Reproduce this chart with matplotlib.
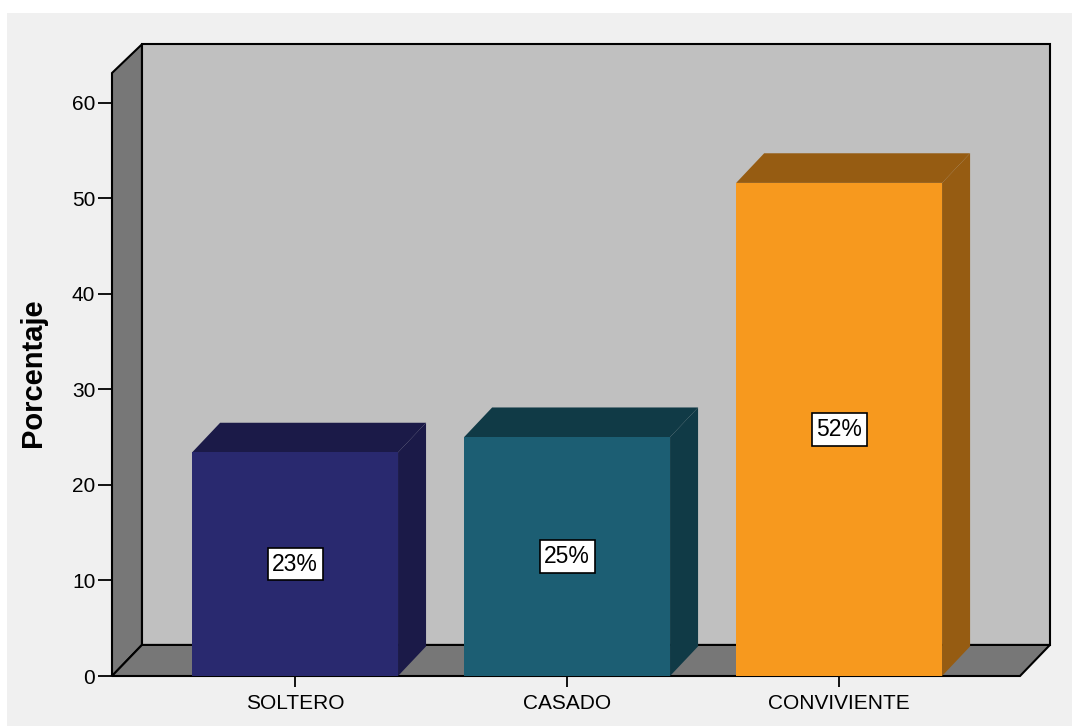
import matplotlib.pyplot as plt
from matplotlib.patches import Polygon, Rectangle

plt.rcParams['font.family'] = ['Liberation Sans', 'DejaVu Sans']

categories = ["SOLTERO", "CASADO", "CONVIVIENTE"]
values = [23.4, 25.0, 51.6]
labels = ["23%", "25%", "52%"]
front_colors = ["#29296f", "#1c5e73", "#f7991e"]
dark_colors = ["#1b1a48", "#103a46", "#965c12"]

fig = plt.figure(figsize=(10.72, 7.27), dpi=100)
fig.patch.set_facecolor("white")
# light grey chart area (white strip at top and left)
fig.add_artist(Rectangle((7 / 1072, 1 / 727), 1, 713 / 727, transform=fig.transFigure,
                         facecolor="#f0f0f0", edgecolor="none", zorder=0))

ax = fig.add_axes([112 / 1072, 51 / 727, 908 / 1072, 603 / 727])
ax.set_xlim(-0.673, 2.665)
ax.set_ylim(0, 63.1)
ax.patch.set_visible(False)
for s in ax.spines.values():
    s.set_visible(False)

# depth of the walls and of the bars (data units)
wdx, wdy = 0.110, 3.25
bdx, bdy = 0.103, 3.1
x0, x1 = ax.get_xlim()
ytop = ax.get_ylim()[1]

# back wall
ax.add_patch(Polygon([(x0 + wdx, wdy), (x0 + wdx, ytop + wdy - 0.25), (x1 + wdx, ytop + wdy - 0.25),
                      (x1 + wdx, wdy)], closed=True, facecolor="#c0c0c0",
                     edgecolor="black", lw=1.5, zorder=1, clip_on=False))
# left wall
ax.add_patch(Polygon([(x0, 0), (x0, ytop), (x0 + wdx, ytop + wdy - 0.25), (x0 + wdx, wdy)],
                     closed=True, facecolor="#777777", edgecolor="black", lw=1.5,
                     zorder=1.5, clip_on=False))
# floor
ax.add_patch(Polygon([(x0, 0), (x0 + wdx, wdy), (x1 + wdx, wdy), (x1, 0)],
                     closed=True, facecolor="#777777", edgecolor="black", lw=1.5,
                     zorder=1.5, clip_on=False))

w = 0.757
for i, (v, fc, dc, lab) in enumerate(zip(values, front_colors, dark_colors, labels)):
    l, r = i - w / 2, i + w / 2
    # side
    ax.add_patch(Polygon([(r, 0), (r + bdx, bdy), (r + bdx, v + bdy), (r, v)],
                         closed=True, facecolor=dc, edgecolor="none", zorder=3, clip_on=False))
    # top
    ax.add_patch(Polygon([(l, v), (l + bdx, v + bdy), (r + bdx, v + bdy), (r, v)],
                         closed=True, facecolor=dc, edgecolor="none", zorder=3, clip_on=False))
    ax.bar(i, v, width=w, color=fc, edgecolor="none", zorder=4)
    ax.text(i, v / 2, lab, ha="center", va="center", fontsize=16.5, zorder=5,
            bbox=dict(boxstyle="square,pad=0.2", facecolor="white", edgecolor="black", lw=1.2))

ax.set_yticks(range(0, 61, 10))
ax.set_xticks(range(len(categories)))
ax.set_xticklabels(categories)
ax.tick_params(axis="y", length=10, width=1.3, pad=2, labelsize=15)
ax.tick_params(axis="x", length=8, width=1.3, pad=5, labelsize=15)

fig.text(33 / 1072, 1 - 373 / 727, "Porcentaje", rotation=90, ha="center", va="center",
         fontsize=21, fontweight="bold")

fig.savefig("out.png", dpi=100, facecolor=fig.get_facecolor())
